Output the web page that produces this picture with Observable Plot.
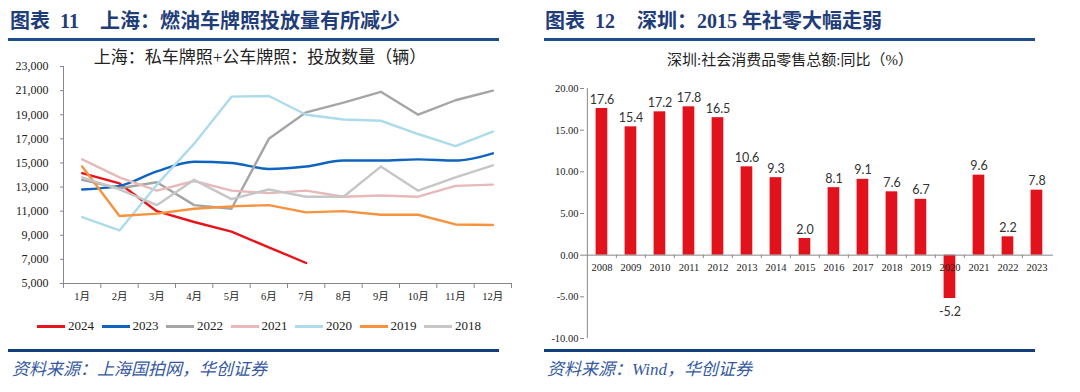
<!DOCTYPE html>
<html><head><meta charset="utf-8">
<script src="https://cdn.jsdelivr.net/npm/d3@7"></script>
<script src="https://cdn.jsdelivr.net/npm/@observablehq/plot@0.6"></script>
<style>
body{margin:0;width:1080px;height:392px;background:#fff;position:relative;overflow:hidden;font-family:"Liberation Serif","Noto Sans CJK SC",serif;}
.abs{position:absolute;white-space:nowrap;}
.title{font-size:20px;line-height:20px;font-weight:bold;color:#1f3d78;top:11px;}
.rule{position:absolute;background:#1f4e8c;}
.sub{color:#222;line-height:1;transform:translateX(-50%);}
.src{font-style:italic;font-size:17px;line-height:17px;color:#3559a0;top:361px;}
.leg{position:absolute;top:319px;left:37px;display:flex;gap:7.5px;font-size:13px;line-height:14px;color:#222;}
.leg .it{display:flex;align-items:center;gap:3px;}
.leg .sw{width:28px;height:3px;}
</style></head><body>
<div class="abs title" style="left:10px">图表</div>
<div class="abs title" style="left:60px">11</div>
<div class="abs title" style="left:100px">上海：燃油车牌照投放量有所减少</div>
<div class="abs title" style="left:545px">图表</div>
<div class="abs title" style="left:595px">12</div>
<div class="abs title" style="left:637px">深圳：2015 年社零大幅走弱</div>
<div class="rule" style="left:8px;top:38px;width:491px;height:2.5px"></div>
<div class="rule" style="left:544px;top:38px;width:491px;height:2.5px"></div>
<div class="abs sub" style="left:260px;top:49px;font-size:17px">上海：私车牌照+公车牌照：投放数量（辆）</div>
<div class="abs sub" style="left:790px;top:53px;font-size:15px">深圳:社会消费品零售总额:同比（%）</div>
<div id="left" class="abs" style="left:0;top:56px"></div>
<div id="right" class="abs" style="left:540px;top:70px"></div>
<div id="legend" class="leg"></div>
<div class="rule" style="left:8px;top:348.5px;width:491px;height:3.5px;background:#123f7c"></div>
<div class="rule" style="left:544px;top:348.5px;width:491px;height:3.5px;background:#123f7c"></div>
<div class="abs src" style="left:12px">资料来源：上海国拍网，华创证券</div>
<div class="abs src" style="left:547px">资料来源：Wind，华创证券</div>
<script>
// ---------- Left chart data (Shanghai plates, monthly) ----------
const months = ["1月","2月","3月","4月","5月","6月","7月","8月","9月","10月","11月","12月"];
const seriesNames = ["2024","2023","2022","2021","2020","2019","2018"];
const s2024 = [14150, 13300, 11000, 10100, 9300, 8000, 6700];
const s2023 = [12800, 13100, 14300, 15100, 15000, 14500, 14700, 15200, 15200, 15300, 15200, 15800];
const s2022 = [13600, 12900, 13400, 11500, 11200, 17000, 19200, 20000, 20900, 19000, 20200, 21000];
const s2021 = [15300, 13800, 12700, 13500, 12700, 12500, 12700, 12200, 12300, 12200, 13100, 13200];
const s2020 = [10500, 9400, 13200, 16600, 20500, 20550, 19000, 18600, 18500, 17400, 16400, 17600];
const s2019 = [14700, 10600, 10800, 11200, 11400, 11500, 10900, 11000, 10700, 10700, 9900, 9850];
const s2018 = [13800, 12800, 11500, 13600, 12000, 12800, 12200, 12200, 14700, 12700, 13800, 14800];
const seriesColors = ["#e8141c", "#0e64bf", "#a5a5a5", "#e8b9b9", "#acdbec", "#f7923f", "#c6c6c6"];
const yTicksLeft = [5000, 7000, 9000, 11000, 13000, 15000, 17000, 19000, 21000, 23000];

// ---------- Right chart data (Shenzhen retail sales YoY) ----------
const yearsR = ["2008","2009","2010","2011","2012","2013","2014","2015","2016","2017","2018","2019","2020","2021","2022","2023"];
const valuesR = [17.6, 15.4, 17.2, 17.8, 16.5, 10.6, 9.3, 2.0, 8.1, 9.1, 7.6, 6.7, -5.2, 9.6, 2.2, 7.8];
const yTicksRight = [-10, -5, 0, 5, 10, 15, 20];
const barColor = "#e2121d";

const serif = '"Liberation Serif","Noto Sans CJK SC",serif';

// ---- build left table
const allSeries = [s2024, s2023, s2022, s2021, s2020, s2019, s2018];
const rowsL = [];
allSeries.forEach((arr, k) => arr.forEach((v, i) => rowsL.push({series: seriesNames[k], m: i + 1, value: v})));
const monthIdx = months.map((_, i) => i + 1);
const bounds = d3.range(0, months.length + 1).map(i => i + 0.5);

const left = Plot.plot({
  width: 520, height: 252,
  marginLeft: 63, marginRight: 9, marginTop: 10, marginBottom: 25,
  style: {fontFamily: serif, color: "#222", background: "transparent", overflow: "visible"},
  x: {type: "linear", domain: [0.5, months.length + 0.5], label: null},
  y: {domain: [yTicksLeft[0], yTicksLeft[yTicksLeft.length - 1]], label: null},
  marks: [
    Plot.axisY(yTicksLeft, {tickSize: 3, tickPadding: 12, tickFormat: d3.format(","), fontSize: 12, label: null, stroke: "#888"}),
    Plot.axisX(monthIdx, {tickSize: 0, tickPadding: 9, tickFormat: i => months[i - 1], fontSize: 10.5, label: null}),
    Plot.axisX(bounds, {tickSize: 5, tickFormat: () => "", label: null, stroke: "#888"}),
    Plot.ruleX([0.5], {stroke: "#888"}),
    Plot.ruleY([yTicksLeft[0]], {stroke: "#888"}),
    ...seriesNames.map((name, k) => Plot.line(rowsL.filter(d => d.series === name), {
      x: "m", y: "value", stroke: seriesColors[k], strokeWidth: 2.4,
      curve: name === "2023" ? "monotone-x" : "linear"
    }))
  ]
});
document.getElementById("left").appendChild(left);

// legend
const leg = document.getElementById("legend");
seriesNames.forEach((n, k) => {
  const it = document.createElement("div"); it.className = "it";
  const sw = document.createElement("span"); sw.className = "sw"; sw.style.background = seriesColors[k];
  const t = document.createElement("span"); t.textContent = n;
  it.appendChild(sw); it.appendChild(t); leg.appendChild(it);
});

// ---- right chart
const rowsR = yearsR.map((y, i) => ({year: y, value: valuesR[i]}));
const W2 = 540, ML2 = 44, MR2 = 27;
const bw = (W2 - ML2 - MR2) / yearsR.length;
const right = Plot.plot({
  width: W2, height: 272,
  marginLeft: ML2, marginRight: MR2, marginTop: 18, marginBottom: 4,
  style: {fontFamily: serif, color: "#222", background: "transparent", overflow: "visible"},
  x: {type: "band", domain: yearsR, padding: 0, label: null},
  y: {domain: [yTicksRight[0], yTicksRight[yTicksRight.length - 1]], label: null},
  marks: [
    Plot.axisY(yTicksRight, {tickSize: 4, tickPadding: 2, tickFormat: d => d.toFixed(2), fontSize: 10.5, label: null, stroke: "#888"}),
    Plot.axisX([], {label: null}),
    Plot.barY(rowsR, {x: "year", y: "value", fill: barColor, insetLeft: 8.6, insetRight: 8.7}),
    Plot.ruleY([0], {stroke: "#888"}),
    Plot.ruleX([yearsR[0]], {y1: yTicksRight[0], y2: yTicksRight[yTicksRight.length - 1], dx: -bw / 2, stroke: "#888"}),
    Plot.ruleX(yearsR.slice(1), {y1: 0, y2: -0.4, dx: -bw / 2, stroke: "#888"}),
    Plot.text(rowsR, {x: "year", y: d => 0, text: "year", dy: 12, fontSize: 10.5}),
    Plot.text(rowsR.filter(d => d.value >= 0), {x: "year", y: "value", text: d => d.value.toFixed(1), lineAnchor: "bottom", dy: -5, fontSize: 12.5, fontFamily: "Lato, sans-serif", fill: "#333"}),
    Plot.text(rowsR.filter(d => d.value < 0), {x: "year", y: "value", text: d => d.value.toFixed(1), lineAnchor: "top", dy: 9, fontSize: 12.5, fontFamily: "Lato, sans-serif", fill: "#333"})
  ]
});
document.getElementById("right").appendChild(right);
</script>
</body></html>
